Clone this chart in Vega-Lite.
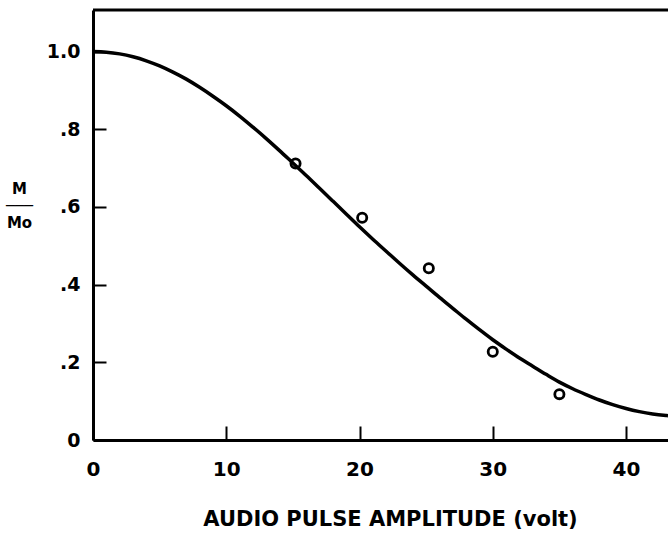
{
  "$schema": "https://vega.github.io/schema/vega-lite/v6.json",
  "width": 575,
  "height": 430,
  "autosize": {"type": "none"},
  "padding": {"left": 93, "top": 10, "right": 0, "bottom": 98},
  "background": "white",
  "config": {
    "view": {"stroke": null},
    "axis": {
      "labelFont": "DejaVu Sans",
      "labelFontWeight": "bold",
      "labelColor": "black",
      "titleFont": "DejaVu Sans",
      "titleFontWeight": "bold",
      "titleColor": "black",
      "domainColor": "black",
      "tickColor": "black",
      "grid": false
    }
  },
  "datasets": {
    "curve": [
      {"v": 0, "m": 1.0}, {"v": 1, "m": 0.9985}, {"v": 2, "m": 0.994}, {"v": 3, "m": 0.9866},
      {"v": 4, "m": 0.9762}, {"v": 5, "m": 0.963}, {"v": 6, "m": 0.947}, {"v": 7, "m": 0.929},
      {"v": 8, "m": 0.908}, {"v": 9, "m": 0.885}, {"v": 10, "m": 0.8605}, {"v": 11, "m": 0.834},
      {"v": 12, "m": 0.8055}, {"v": 13, "m": 0.776}, {"v": 14, "m": 0.745}, {"v": 15, "m": 0.713},
      {"v": 16, "m": 0.681}, {"v": 17, "m": 0.648}, {"v": 18, "m": 0.615}, {"v": 19, "m": 0.582},
      {"v": 20, "m": 0.549}, {"v": 21, "m": 0.517}, {"v": 22, "m": 0.486}, {"v": 23, "m": 0.455},
      {"v": 24, "m": 0.425}, {"v": 25, "m": 0.396}, {"v": 26, "m": 0.367}, {"v": 27, "m": 0.339},
      {"v": 28, "m": 0.311}, {"v": 29, "m": 0.284}, {"v": 30, "m": 0.258}, {"v": 31, "m": 0.234},
      {"v": 32, "m": 0.211}, {"v": 33, "m": 0.19}, {"v": 34, "m": 0.169}, {"v": 35, "m": 0.149},
      {"v": 36, "m": 0.132}, {"v": 37, "m": 0.117}, {"v": 38, "m": 0.103}, {"v": 39, "m": 0.091},
      {"v": 40, "m": 0.081}, {"v": 41, "m": 0.073}, {"v": 42, "m": 0.067}, {"v": 43, "m": 0.063},
      {"v": 43.15, "m": 0.0625}
    ],
    "points": [
      {"v": 15.2, "m": 0.712}, {"v": 20.2, "m": 0.572}, {"v": 25.2, "m": 0.442},
      {"v": 30.0, "m": 0.227}, {"v": 35.0, "m": 0.118}
    ],
    "frame": [{"top": 1.107}]
  },
  "layer": [
    {
      "data": {"name": "curve"},
      "mark": {"type": "line", "color": "black", "strokeWidth": 3.5, "interpolate": "monotone", "clip": true},
      "encoding": {
        "x": {
          "field": "v", "type": "quantitative",
          "scale": {"domain": [0, 43.15], "nice": false, "zero": false},
          "axis": {
            "title": "AUDIO PULSE AMPLITUDE (volt)",
            "values": [0, 10, 20, 30, 40],
            "labelFontSize": 20,
            "tickSize": -14,
            "tickWidth": 2,
            "domainWidth": 3,
            "labelPadding": 33,
            "labelFlush": false,
            "titleFontSize": 21,
            "titlePadding": 29,
            "titleX": 297
          }
        },
        "y": {
          "field": "m", "type": "quantitative",
          "scale": {"domain": [0, 1.107], "nice": false},
          "axis": {
            "title": ["M", "───", "Mo"],
            "values": [0, 0.2, 0.4, 0.6, 0.8, 1.0],
            "labelExpr": "datum.value == 0 ? '0' : (datum.value == 1 ? '1.0' : replace(format(datum.value, '.1f'), '0.', '.'))",
            "labelFontSize": 19,
            "tickSize": -13,
            "tickWidth": 2,
            "domainWidth": 3,
            "labelPadding": 26,
            "labelFlush": false,
            "titleAngle": 0,
            "titleFontSize": 15,
            "titleLineHeight": 17,
            "titleAlign": "center",
            "titleBaseline": "middle",
            "titleX": -74,
            "titleY": 178
          }
        }
      }
    },
    {
      "data": {"name": "points"},
      "mark": {"type": "point", "shape": "circle", "filled": false, "color": "black", "strokeWidth": 2.8, "size": 85, "opacity": 1},
      "encoding": {
        "x": {"field": "v", "type": "quantitative"},
        "y": {"field": "m", "type": "quantitative"}
      }
    },
    {
      "data": {"name": "frame"},
      "mark": {"type": "rule", "color": "black", "strokeWidth": 3},
      "encoding": {
        "y": {"field": "top", "type": "quantitative"}
      }
    }
  ]
}
